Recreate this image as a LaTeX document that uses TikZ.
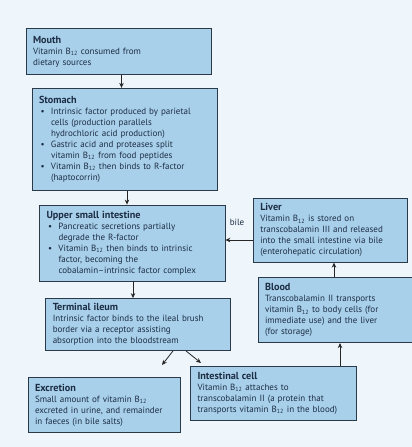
\documentclass[tikz,border=0pt]{standalone}
\usepackage{fontspec}
\setmainfont{PT Sans}
\usetikzlibrary{arrows.meta}
\definecolor{bgc}{HTML}{EEF5FB}
\definecolor{boxfill}{HTML}{A8D0EA}
\definecolor{boxline}{HTML}{2B3A48}
\definecolor{txt}{HTML}{1D2D44}
\newcommand{\bul}{\makebox[12pt][l]{\hspace{1.5pt}\textbullet}}
\newcommand{\ind}{\makebox[12pt]{}}
\newcommand{\Bt}{B\textsubscript{12}}
\newcommand{\ttl}[1]{\textbf{\fontsize{10.2}{11}\selectfont #1}}
\begin{document}
\begin{tikzpicture}[x=1pt,y=-1pt,
  box/.style={draw=boxline, line width=0.8pt, fill=boxfill, text=txt, align=left, anchor=center, inner xsep=7pt, inner ysep=4pt, font=\fontsize{9}{11}\selectfont},
  arr/.style={draw=black!85, line width=0.8pt, -{Stealth[length=5pt,width=4.5pt]}},
  lbl/.style={text=txt, font=\fontsize{9}{11}\selectfont}]
\fill[bgc] (0,0) rectangle (412,447);
\useasboundingbox (0,0) rectangle (412,447);
\node[box, text width=171.5pt, minimum height=46pt] (mouth) at (118.75,51.5)
  {\ttl{Mouth}\\Vitamin \Bt{} consumed from\\dietary sources};
\node[box, text width=171pt, minimum height=102.5pt] (stomach) at (124.5,139.5)
  {\ttl{Stomach}\\
   \bul Intrinsic factor produced by parietal\\
   \ind cells (production parallels\\
   \ind hydrochloric acid production)\\
   \bul Gastric acid and proteases split\\
   \ind vitamin \Bt{} from food peptides\\
   \bul Vitamin \Bt{} then binds to R-factor\\
   \ind (haptocorrin)};
\node[box, text width=171.5pt, minimum height=76pt] (usi) at (132.25,243)
  {\ttl{Upper small intestine}\\
   \bul Pancreatic secretions partially\\
   \ind degrade the R-factor\\
   \bul Vitamin \Bt{} then binds to intrinsic\\
   \ind factor, becoming the\\
   \ind cobalamin--intrinsic factor complex};
\node[box, text width=171pt, minimum height=52pt] (ti) at (138.25,324.5)
  {\ttl{Terminal ileum}\\
   Intrinsic factor binds to the ileal brush\\
   border via a receptor assisting\\
   absorption into the bloodstream};
\node[box, text width=140.5pt, minimum height=64pt] (liver) at (330.5,230.25)
  {\ttl{Liver}\\
   Vitamin \Bt{} is stored on\\
   transcobalamin III and released\\
   into the small intestine via bile\\
   (enterohepatic circulation)};
\node[box, text width=140pt, minimum height=64.8pt] (blood) at (335,310.25)
  {\ttl{Blood}\\
   Transcobalamin II transports\\
   vitamin \Bt{} to body cells (for\\
   immediate use) and the liver\\
   (for storage)};
\node[box, text width=138pt, minimum height=55.5pt] (exc) at (104,405)
  {\ttl{Excretion}\\
   Small amount of vitamin \Bt\\
   excreted in urine, and remainder\\
   in faeces (in bile salts)};
\node[box, text width=152pt, minimum height=54pt] (ic) at (273.5,393.5)
  {\ttl{Intestinal cell}\\
   Vitamin \Bt{} attaches to\\
   transcobalamin II (a protein that\\
   transports vitamin \Bt{} in the blood)};
\node[lbl] (bile) at (237,222) {bile};
\coordinate (excin) at (162,365);
\coordinate (icin) at (201,363);
\draw[arr] (mouth.south -| 121.5,0) -- (stomach.north -| 121.5,0);
\draw[arr] (stomach.south -| 127,0) -- (usi.north -| 127,0);
\draw[arr] (usi.south -| 133,0) -- (ti.north -| 133,0);
\draw[arr] (liver.west |- 0,240) -- (usi.east |- 0,240);
\draw[arr] (blood.north -| 334,0) -- (liver.south -| 334,0);
\draw[arr] (ic.north -| 340,0) -- (blood.south -| 340,0);
\draw[arr] (ti.south -| 173,0) -- (excin);
\draw[arr] (ti.south -| 186,0) -- (icin);
\end{tikzpicture}
\end{document}
